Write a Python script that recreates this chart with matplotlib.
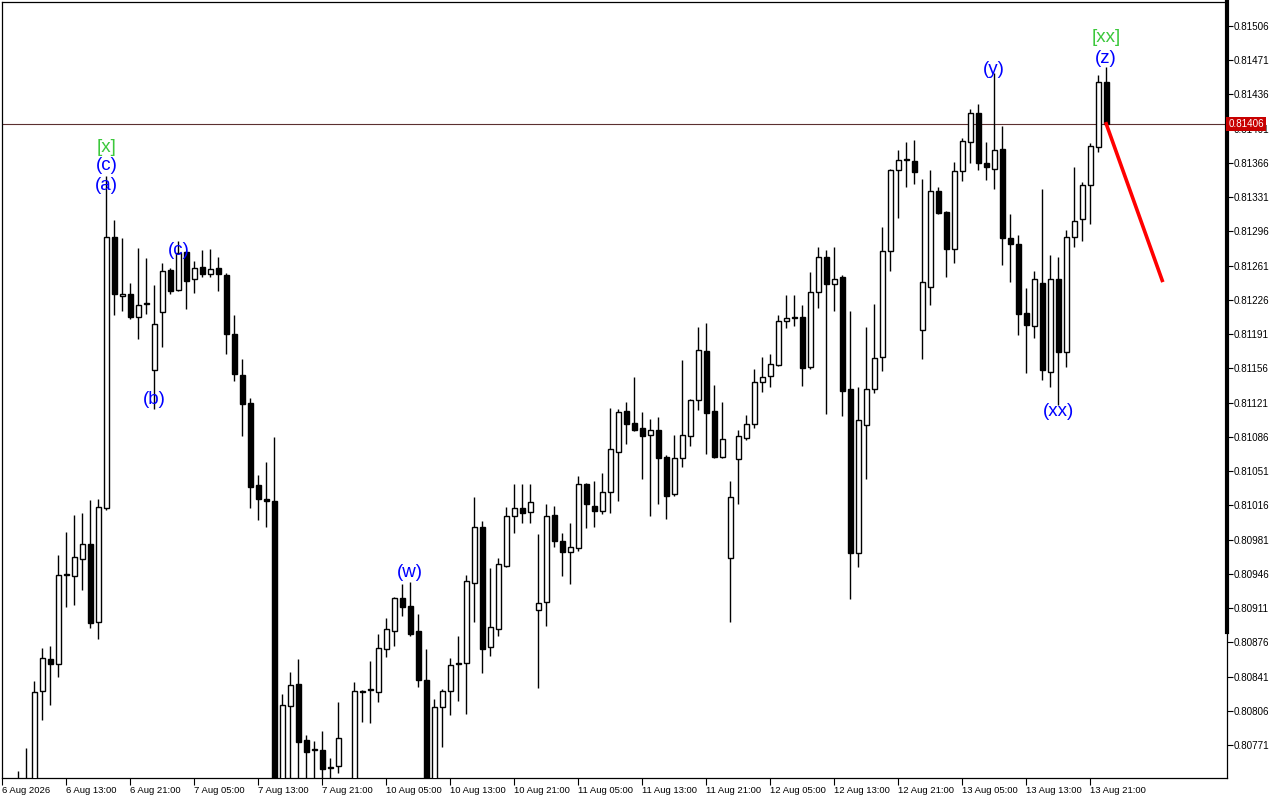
import matplotlib
matplotlib.use("Agg")
import matplotlib.pyplot as plt
import matplotlib.transforms as mtransforms
import numpy as np

# H1 bars, 6 Aug 2026 -> 13 Aug 2026
opens = [0.80700, 0.80715, 0.80705, 0.80720, 0.80725, 0.80826, 0.80859, 0.80854, 0.80945, 0.80944,
         0.80961, 0.80977, 0.80897, 0.81013, 0.81290, 0.81230, 0.81232, 0.81209, 0.81222, 0.81154,
         0.81214, 0.81257, 0.81236, 0.81275, 0.81247, 0.81260, 0.81253, 0.81259, 0.81252, 0.81191,
         0.81149, 0.81121, 0.81037, 0.81023, 0.81021, 0.80725, 0.80811, 0.80834, 0.80776, 0.80766,
         0.80766, 0.80748, 0.80750, 0.80730, 0.80728, 0.80826, 0.80827, 0.80825, 0.80869, 0.80888,
         0.80921, 0.80913, 0.80888, 0.80838, 0.80735, 0.80810, 0.80826, 0.80854, 0.80855, 0.80937,
         0.80994, 0.80871, 0.80890, 0.80954, 0.81005, 0.81013, 0.81009, 0.80909, 0.80917, 0.81006,
         0.80980, 0.80968, 0.80973, 0.81038, 0.81015, 0.81010, 0.81030, 0.81071, 0.81113, 0.81100,
         0.81095, 0.81088, 0.81093, 0.81066, 0.81028, 0.81065, 0.81087, 0.81124, 0.81174, 0.81113,
         0.81066, 0.80962, 0.81063, 0.81085, 0.81099, 0.81142, 0.81148, 0.81160, 0.81205, 0.81208,
         0.81209, 0.81158, 0.81234, 0.81270, 0.81242, 0.81249, 0.81135, 0.80967, 0.81098, 0.81135,
         0.81168, 0.81276, 0.81359, 0.81369, 0.81368, 0.81195, 0.81239, 0.81337, 0.81316, 0.81278,
         0.81358, 0.81387, 0.81417, 0.81366, 0.81360, 0.81380, 0.81289, 0.81283, 0.81213, 0.81199,
         0.81243, 0.81152, 0.81247, 0.81173, 0.81290, 0.81309, 0.81344, 0.81382, 0.81449]
highs = [0.80725, 0.80730, 0.80745, 0.80768, 0.80837, 0.80870, 0.80872, 0.80965, 0.80989, 0.81006,
         0.81008, 0.81022, 0.81023, 0.81353, 0.81308, 0.81289, 0.81243, 0.81279, 0.81269, 0.81241,
         0.81264, 0.81259, 0.81286, 0.81276, 0.81266, 0.81277, 0.81278, 0.81270, 0.81254, 0.81211,
         0.81166, 0.81126, 0.81047, 0.81060, 0.81086, 0.80823, 0.80846, 0.80859, 0.80781, 0.80775,
         0.80786, 0.80758, 0.80815, 0.80735, 0.80836, 0.80827, 0.80857, 0.80885, 0.80901, 0.80922,
         0.80936, 0.80938, 0.80905, 0.80869, 0.80818, 0.80828, 0.80860, 0.80883, 0.80945, 0.81025,
         0.81000, 0.80952, 0.80962, 0.81014, 0.81038, 0.81038, 0.81038, 0.80987, 0.81018, 0.81015,
         0.80988, 0.80998, 0.81046, 0.81039, 0.81041, 0.81049, 0.81116, 0.81115, 0.81122, 0.81147,
         0.81112, 0.81104, 0.81106, 0.81068, 0.81088, 0.81165, 0.81125, 0.81198, 0.81202, 0.81139,
         0.81122, 0.81041, 0.81093, 0.81108, 0.81155, 0.81168, 0.81171, 0.81211, 0.81231, 0.81231,
         0.81221, 0.81255, 0.81280, 0.81277, 0.81280, 0.81252, 0.81215, 0.81137, 0.81198, 0.81222,
         0.81301, 0.81360, 0.81379, 0.81387, 0.81389, 0.81350, 0.81359, 0.81341, 0.81317, 0.81367,
         0.81392, 0.81421, 0.81426, 0.81387, 0.81458, 0.81404, 0.81314, 0.81292, 0.81238, 0.81256,
         0.81339, 0.81272, 0.81270, 0.81297, 0.81362, 0.81347, 0.81386, 0.81456, 0.81464]
lows = [0.80680, 0.80690, 0.80690, 0.80700, 0.80715, 0.80797, 0.80812, 0.80841, 0.80912, 0.80914,
        0.80930, 0.80891, 0.80880, 0.81011, 0.81211, 0.81215, 0.81207, 0.81186, 0.81212, 0.81115,
        0.81178, 0.81232, 0.81235, 0.81217, 0.81233, 0.81249, 0.81249, 0.81235, 0.81171, 0.81143,
        0.81087, 0.81013, 0.81001, 0.80994, 0.80715, 0.80715, 0.80730, 0.80730, 0.80725, 0.80728,
        0.80725, 0.80725, 0.80743, 0.80720, 0.80720, 0.80795, 0.80794, 0.80815, 0.80861, 0.80872,
        0.80903, 0.80883, 0.80830, 0.80720, 0.80725, 0.80769, 0.80802, 0.80816, 0.80803, 0.80897,
        0.80845, 0.80862, 0.80883, 0.80953, 0.80988, 0.80998, 0.80998, 0.80829, 0.80893, 0.80974,
        0.80944, 0.80936, 0.80969, 0.80993, 0.80994, 0.81007, 0.81008, 0.81021, 0.81079, 0.81092,
        0.81043, 0.81005, 0.81018, 0.81002, 0.81026, 0.81055, 0.81077, 0.81114, 0.81069, 0.81064,
        0.81064, 0.80897, 0.81018, 0.81083, 0.81095, 0.81132, 0.81137, 0.81159, 0.81197, 0.81199,
        0.81138, 0.81155, 0.81218, 0.81109, 0.81215, 0.81107, 0.80920, 0.80953, 0.81043, 0.81131,
        0.81153, 0.81256, 0.81310, 0.81341, 0.81345, 0.81166, 0.81221, 0.81314, 0.81249, 0.81264,
        0.81348, 0.81366, 0.81359, 0.81349, 0.81339, 0.81262, 0.81244, 0.81190, 0.81151, 0.81187,
        0.81144, 0.81137, 0.81119, 0.81158, 0.81280, 0.81286, 0.81304, 0.81377, 0.81406]
closes = [0.80715, 0.80705, 0.80720, 0.80730, 0.80825, 0.80860, 0.80854, 0.80945, 0.80946, 0.80963,
          0.80977, 0.80896, 0.81014, 0.81290, 0.81232, 0.81232, 0.81209, 0.81221, 0.81223, 0.81201,
          0.81256, 0.81235, 0.81274, 0.81245, 0.81259, 0.81253, 0.81258, 0.81253, 0.81191, 0.81150,
          0.81120, 0.81035, 0.81023, 0.81021, 0.80720, 0.80812, 0.80833, 0.80774, 0.80764, 0.80767,
          0.80747, 0.80749, 0.80778, 0.80728, 0.80826, 0.80825, 0.80828, 0.80870, 0.80890, 0.80921,
          0.80912, 0.80885, 0.80838, 0.80730, 0.80810, 0.80826, 0.80853, 0.80855, 0.80939, 0.80994,
          0.80869, 0.80892, 0.80956, 0.81005, 0.81013, 0.81008, 0.81020, 0.80916, 0.81005, 0.80980,
          0.80968, 0.80974, 0.81038, 0.81018, 0.81010, 0.81030, 0.81074, 0.81112, 0.81099, 0.81093,
          0.81087, 0.81093, 0.81065, 0.81026, 0.81065, 0.81088, 0.81124, 0.81175, 0.81111, 0.81066,
          0.81084, 0.81025, 0.81087, 0.81099, 0.81142, 0.81147, 0.81161, 0.81205, 0.81208, 0.81209,
          0.81156, 0.81234, 0.81270, 0.81242, 0.81247, 0.81133, 0.80967, 0.81103, 0.81135, 0.81167,
          0.81276, 0.81359, 0.81369, 0.81370, 0.81357, 0.81244, 0.81337, 0.81315, 0.81278, 0.81358,
          0.81388, 0.81417, 0.81366, 0.81362, 0.81379, 0.81289, 0.81283, 0.81212, 0.81200, 0.81247,
          0.81154, 0.81247, 0.81173, 0.81290, 0.81307, 0.81344, 0.81383, 0.81449, 0.81406]

time_labels = ["6 Aug 2026", "6 Aug 13:00", "6 Aug 21:00", "7 Aug 05:00", "7 Aug 13:00",
               "7 Aug 21:00", "10 Aug 05:00", "10 Aug 13:00", "10 Aug 21:00", "11 Aug 05:00",
               "11 Aug 13:00", "11 Aug 21:00", "12 Aug 05:00", "12 Aug 13:00", "12 Aug 21:00",
               "13 Aug 05:00", "13 Aug 13:00", "13 Aug 21:00"]
price_ticks = [0.80771 + 0.00035 * i for i in range(22)]
last_price = 0.81406

# wave marks: text, bar index, price, colour
wave_text = ["[x]", "(c)", "(a)", "(b)", "(c)", "(w)", "(y)", "(xx)", "[xx]", "(z)"]
wave_bar = [13, 13, 13, 19, 22, 51, 124, 132, 138, 138]
wave_price = [0.81382, 0.81363, 0.81343, 0.81124, 0.81277, 0.80947, 0.81462, 0.81112, 0.81494, 0.81473]
wave_color = ["#3cc83c", "blue", "blue", "blue", "blue", "blue", "blue", "blue", "#3cc83c", "blue"]

# forecast line
proj_bar = [138, 145]
proj_price = [0.81406, 0.81246]

o = np.array(opens)
h = np.array(highs)
l = np.array(lows)
c = np.array(closes)
idx = np.arange(len(o))

fig = plt.figure(figsize=(12.8, 8), dpi=100)
ax = fig.add_axes([2 / 1280, 22 / 800, 1225 / 1280, 776 / 800])

ax.vlines(idx, l, h, color="black", lw=1, zorder=2)
lo = np.minimum(o, c)
ht = np.abs(c - o)
up = c >= o
ax.bar(idx[up], ht[up], bottom=lo[up], width=0.6, color="white",
       edgecolor="black", lw=1, zorder=3)
ax.bar(idx[~up], ht[~up], bottom=lo[~up], width=0.6, color="black",
       edgecolor="black", lw=1, zorder=3)

ax.axhline(last_price, color="#5c3030", lw=0.8, zorder=1)
ax.plot(proj_bar, proj_price, color="red", lw=2.6, zorder=5)

for t, xb, yp, col in zip(wave_text, wave_bar, wave_price, wave_color):
    ax.text(xb, yp, t, color=col, fontsize=13.5, ha="center", va="center",
            family="Liberation Sans", zorder=6)

ax.set_xlim(-0.05, 153.1)
ax.set_ylim(0.807375, 0.815305)

ax.yaxis.tick_right()
ax.set_yticks(price_ticks)
ax.set_yticklabels(["%.5f" % p for p in price_ticks])
ax.set_xticks(np.arange(0, 8 * len(time_labels), 8))
ax.set_xticklabels(time_labels)
for lbl in ax.get_xticklabels():
    lbl.set_horizontalalignment("left")
    lbl.set_family("Liberation Sans")
for lbl in ax.get_yticklabels():
    lbl.set_family("Liberation Sans")
ax.tick_params(axis="y", direction="out", length=4, width=0.8, labelsize=7.1, pad=1)
ax.tick_params(axis="x", direction="out", length=5, width=0.8, labelsize=6.8, pad=1)

for s in ax.spines.values():
    s.set_linewidth(0.9)

# thick part of the right border
ax.plot([1, 1], [0.188, 1], transform=ax.transAxes, color="black", lw=3,
        clip_on=False, zorder=7)

# current price tag
trans = mtransforms.blended_transform_factory(ax.transAxes, ax.transData)
ax.text(1.0012, last_price, "%.5f" % last_price, transform=trans, color="white",
        fontsize=7.1, family="Liberation Sans", ha="left", va="center",
        bbox=dict(boxstyle="square,pad=0.22", fc="#c80000", ec="none"),
        clip_on=False, zorder=10)

fig.savefig("out.png", dpi=100)
